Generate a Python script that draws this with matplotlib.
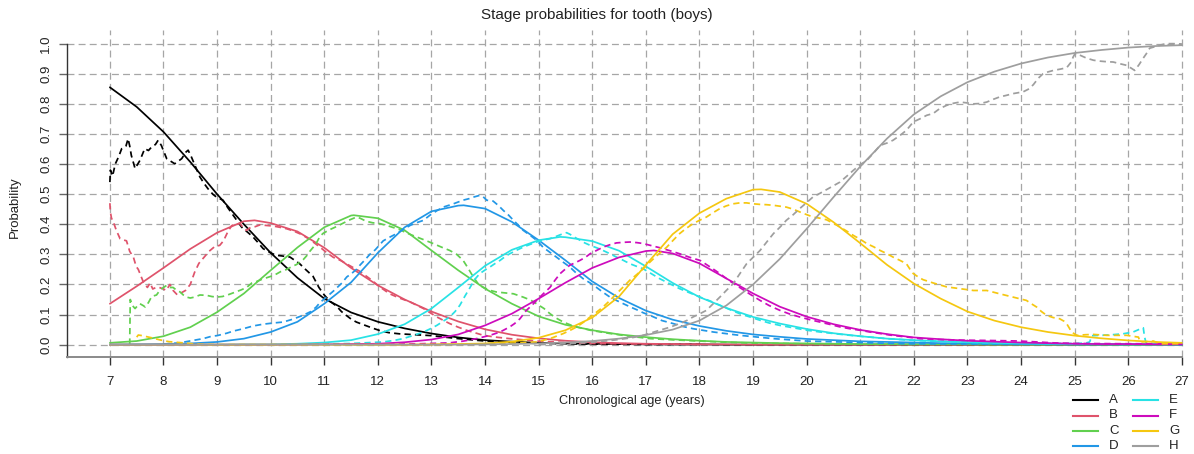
import numpy as np
import matplotlib
matplotlib.use("Agg")
import matplotlib.pyplot as plt
from matplotlib.lines import Line2D

plt.rcParams['font.family'] = ['Liberation Sans', 'DejaVu Sans']
plt.rcParams['lines.scale_dashes'] = False

# ---------------------------------------------------------------- data
stages = ["A", "B", "C", "D", "E", "F", "G", "H"]
stage_colors = ["#000000", "#DF536B", "#61D04F", "#2297E6",
                "#28E2E5", "#CD0BBC", "#F5C710", "#9E9E9E"]

x_ticks = [7, 8, 9, 10, 11, 12, 13, 14, 15, 16, 17, 18, 19, 20, 21, 22, 23, 24, 25, 26, 27]
y_ticks = [0.0, 0.1, 0.2, 0.3, 0.4, 0.5, 0.6, 0.7, 0.8, 0.9, 1.0]

# fitted stage probabilities as (age, probability), every half year plus the mode
fit_A = [(7, 0.855), (7.5, 0.790), (8, 0.707), (8.5, 0.607), (9, 0.500),
         (9.5, 0.400), (10, 0.305), (10.5, 0.222), (11, 0.153), (11.5, 0.107),
         (12, 0.076), (12.5, 0.054), (13, 0.037), (13.5, 0.024), (14, 0.015),
         (14.5, 0.010), (15, 0.006), (15.5, 0.004), (16, 0.003), (16.5, 0.002),
         (17, 0.001), (18, 0.001), (18.5, 0.0), (27, 0.0)]
fit_B = [(7, 0.136), (7.5, 0.194), (8, 0.255), (8.5, 0.318), (9, 0.372),
         (9.5, 0.410), (9.7, 0.413), (10, 0.404), (10.5, 0.376), (11, 0.322),
         (11.5, 0.255), (12, 0.197), (12.5, 0.150), (13, 0.110), (13.5, 0.077),
         (14, 0.051), (14.5, 0.033), (15, 0.021), (15.5, 0.013), (16, 0.008),
         (16.5, 0.005), (17, 0.003), (17.5, 0.002), (18, 0.001), (18.5, 0.001),
         (19, 0.0), (27, 0.0)]
fit_C = [(7, 0.006), (7.5, 0.012), (8, 0.028), (8.5, 0.058), (9, 0.108),
         (9.5, 0.170), (10, 0.247), (10.5, 0.323), (11, 0.390), (11.5, 0.429),
         (11.55, 0.430), (12, 0.420), (12.5, 0.380), (13, 0.313), (13.5, 0.247),
         (14, 0.186), (14.5, 0.136), (15, 0.094), (15.5, 0.066), (16, 0.048),
         (16.5, 0.034), (17, 0.025), (17.5, 0.018), (18, 0.013), (18.5, 0.009),
         (19, 0.007), (19.5, 0.005), (20, 0.004), (20.5, 0.003), (21, 0.002),
         (21.5, 0.002), (22, 0.001), (23, 0.001), (23.5, 0.0), (27, 0.0)]
fit_D = [(7, 0.000), (7.5, 0.001), (8, 0.002), (8.5, 0.004), (9, 0.009),
         (9.5, 0.020), (10, 0.042), (10.5, 0.076), (11, 0.136), (11.5, 0.207),
         (12, 0.305), (12.5, 0.390), (13, 0.443), (13.5, 0.462), (13.6, 0.463),
         (14, 0.452), (14.5, 0.408), (15, 0.347), (15.5, 0.280), (16, 0.210),
         (16.5, 0.155), (17, 0.113), (17.5, 0.083), (18, 0.062), (18.5, 0.046),
         (19, 0.034), (19.5, 0.026), (20, 0.019), (20.5, 0.015), (21, 0.011),
         (21.5, 0.009), (22, 0.007), (22.5, 0.005), (23, 0.004), (23.5, 0.003),
         (24, 0.002), (24.5, 0.002), (25, 0.001), (26.5, 0.001), (27, 0.0)]
fit_E = [(7, 0.0), (9, 0.0), (9.5, 0.001), (10, 0.001), (10.5, 0.003),
         (11, 0.007), (11.5, 0.015), (12, 0.035), (12.5, 0.068), (13, 0.120),
         (13.5, 0.190), (14, 0.262), (14.5, 0.315), (15, 0.347), (15.4, 0.358),
         (15.5, 0.357), (16, 0.344), (16.5, 0.312), (17, 0.260), (17.5, 0.205),
         (18, 0.158), (18.5, 0.122), (19, 0.092), (19.5, 0.070), (20, 0.052),
         (20.5, 0.038), (21, 0.028), (21.5, 0.020), (22, 0.015), (22.5, 0.011),
         (23, 0.008), (23.5, 0.006), (24, 0.004), (24.5, 0.003), (25, 0.002),
         (25.5, 0.002), (26, 0.001), (27, 0.001)]
fit_F = [(7, 0.0), (10.5, 0.0), (11, 0.001), (11.5, 0.002), (12, 0.003),
         (12.5, 0.008), (13, 0.017), (13.5, 0.034), (14, 0.064), (14.5, 0.103),
         (15, 0.153), (15.5, 0.206), (16, 0.255), (16.5, 0.290), (17, 0.311),
         (17.15, 0.313), (17.5, 0.303), (18, 0.270), (18.5, 0.220), (19, 0.170),
         (19.5, 0.126), (20, 0.093), (20.5, 0.068), (21, 0.049), (21.5, 0.035),
         (22, 0.024), (22.5, 0.018), (23, 0.013), (23.5, 0.010), (24, 0.007),
         (24.5, 0.005), (25, 0.003), (25.5, 0.002), (26, 0.002), (26.5, 0.001),
         (27, 0.001)]
fit_G = [(7, 0.0), (12.5, 0.0), (13, 0.001), (13.5, 0.002), (14, 0.004),
         (14.5, 0.010), (15, 0.023), (15.5, 0.048), (16, 0.090), (16.5, 0.160),
         (17, 0.265), (17.5, 0.367), (18, 0.437), (18.5, 0.485), (19, 0.515),
         (19.15, 0.516), (19.5, 0.507), (20, 0.468), (20.5, 0.407), (21, 0.337),
         (21.5, 0.265), (22, 0.203), (22.5, 0.153), (23, 0.110), (23.5, 0.080),
         (24, 0.058), (24.5, 0.042), (25, 0.030), (25.5, 0.021), (26, 0.014),
         (26.5, 0.009), (27, 0.006)]
fit_H = [(7, 0.0), (13.5, 0.0), (14, 0.001), (14.5, 0.002), (15, 0.004),
         (15.5, 0.007), (16, 0.012), (16.5, 0.020), (17, 0.032), (17.5, 0.050),
         (18, 0.080), (18.5, 0.130), (19, 0.200), (19.5, 0.285), (20, 0.385),
         (20.5, 0.490), (21, 0.592), (21.5, 0.685), (22, 0.765), (22.5, 0.825),
         (23, 0.872), (23.5, 0.907), (24, 0.934), (24.5, 0.954), (25, 0.969),
         (25.5, 0.979), (26, 0.987), (26.5, 0.992), (27, 0.995)]

# observed (empirical) stage proportions as (age, proportion)
emp_A = [(7.0, 0.54), (7.01, 0.58), (7.05, 0.56), (7.1, 0.60), (7.16, 0.623),
         (7.22, 0.651), (7.3, 0.66), (7.34, 0.684), (7.37, 0.66), (7.4, 0.629),
         (7.47, 0.585), (7.52, 0.60), (7.56, 0.612), (7.65, 0.651), (7.72, 0.645),
         (7.78, 0.657), (7.85, 0.665), (7.9, 0.679), (7.96, 0.662), (8.06, 0.618),
         (8.13, 0.61), (8.21, 0.601), (8.28, 0.61), (8.34, 0.618), (8.42, 0.64),
         (8.46, 0.646), (8.52, 0.624), (8.6, 0.59), (8.68, 0.557), (8.76, 0.535),
         (8.83, 0.518), (8.92, 0.50), (8.99, 0.49), (9.11, 0.48), (9.2, 0.455),
         (9.3, 0.43), (9.38, 0.41), (9.46, 0.39), (9.56, 0.375), (9.67, 0.358),
         (9.76, 0.34), (9.86, 0.319), (10.0, 0.305), (10.1, 0.297), (10.2, 0.295),
         (10.36, 0.291), (10.45, 0.28), (10.54, 0.269), (10.65, 0.25), (10.79, 0.227),
         (10.9, 0.19), (11.0, 0.165), (11.1, 0.145), (11.23, 0.128), (11.32, 0.11),
         (11.42, 0.096), (11.5, 0.085), (11.6, 0.075), (11.75, 0.065), (11.9, 0.055),
         (12.05, 0.046), (12.2, 0.04), (12.4, 0.036), (12.7, 0.033), (13.0, 0.03),
         (13.25, 0.025), (13.5, 0.02), (13.75, 0.016), (14.0, 0.012), (14.3, 0.009),
         (14.6, 0.007), (15.0, 0.004), (15.5, 0.003), (16.0, 0.002), (17.0, 0.001),
         (18.0, 0.001)]
emp_B = [(7.0, 0.47), (7.01, 0.44), (7.03, 0.42), (7.06, 0.41), (7.12, 0.38),
         (7.19, 0.352), (7.25, 0.348), (7.31, 0.345), (7.37, 0.31), (7.44, 0.29),
         (7.49, 0.26), (7.53, 0.25), (7.62, 0.21), (7.66, 0.20), (7.7, 0.19),
         (7.75, 0.205), (7.8, 0.185), (7.86, 0.19), (7.92, 0.19), (8.0, 0.185),
         (8.05, 0.18), (8.12, 0.20), (8.18, 0.18), (8.26, 0.165), (8.33, 0.172),
         (8.41, 0.18), (8.5, 0.20), (8.58, 0.24), (8.66, 0.27), (8.76, 0.291),
         (8.85, 0.31), (8.95, 0.325), (9.05, 0.33), (9.12, 0.345), (9.2, 0.375),
         (9.27, 0.395), (9.33, 0.40), (9.43, 0.402), (9.5, 0.385), (9.55, 0.38),
         (9.63, 0.39), (9.71, 0.392), (9.8, 0.398), (9.92, 0.396), (10.05, 0.394),
         (10.17, 0.39), (10.3, 0.385), (10.42, 0.378), (10.55, 0.368), (10.67, 0.356),
         (10.8, 0.34), (10.92, 0.324), (11.05, 0.305), (11.17, 0.29), (11.3, 0.28),
         (11.42, 0.268), (11.55, 0.255), (11.65, 0.245), (11.85, 0.219), (12.05, 0.19),
         (12.22, 0.169), (12.4, 0.155), (12.6, 0.142), (12.85, 0.12), (13.1, 0.092),
         (13.34, 0.07), (13.5, 0.058), (13.65, 0.048), (13.97, 0.031), (14.2, 0.025),
         (14.46, 0.02), (14.96, 0.012), (15.5, 0.007), (16.0, 0.004), (17.0, 0.002),
         (18.0, 0.001)]
emp_C = [(7.37, 0.0), (7.38, 0.15), (7.42, 0.13), (7.47, 0.12), (7.52, 0.13),
         (7.56, 0.136), (7.62, 0.13), (7.66, 0.125), (7.72, 0.14), (7.78, 0.16),
         (7.87, 0.165), (7.93, 0.18), (8.0, 0.19), (8.06, 0.197), (8.12, 0.19),
         (8.18, 0.19), (8.25, 0.18), (8.31, 0.175), (8.37, 0.165), (8.43, 0.158),
         (8.5, 0.155), (8.58, 0.158), (8.68, 0.165), (8.8, 0.164), (8.9, 0.16),
         (8.99, 0.158), (9.1, 0.16), (9.18, 0.164), (9.27, 0.17), (9.36, 0.176),
         (9.45, 0.182), (9.55, 0.19), (9.65, 0.205), (9.74, 0.21), (9.85, 0.218),
         (9.92, 0.222), (10.02, 0.228), (10.11, 0.235), (10.2, 0.244), (10.3, 0.25),
         (10.4, 0.26), (10.48, 0.266), (10.55, 0.275), (10.61, 0.283), (10.67, 0.295),
         (10.73, 0.31), (10.8, 0.325), (10.86, 0.34), (10.92, 0.36), (10.98, 0.37),
         (11.1, 0.382), (11.2, 0.39), (11.29, 0.398), (11.4, 0.408), (11.48, 0.415),
         (11.6, 0.424), (11.67, 0.42), (11.78, 0.41), (11.9, 0.405), (12.04, 0.402),
         (12.22, 0.393), (12.41, 0.382), (12.55, 0.37), (12.72, 0.358), (12.88, 0.347),
         (13.03, 0.336), (13.2, 0.323), (13.34, 0.313), (13.47, 0.30), (13.59, 0.28),
         (13.68, 0.255), (13.78, 0.225), (13.88, 0.20), (13.97, 0.19), (14.1, 0.18),
         (14.21, 0.175), (14.37, 0.172), (14.53, 0.169), (14.71, 0.158), (14.85, 0.148),
         (14.96, 0.136), (15.1, 0.12), (15.21, 0.103), (15.33, 0.088), (15.46, 0.075),
         (15.6, 0.065), (15.71, 0.059), (15.96, 0.048), (16.33, 0.037), (16.7, 0.028),
         (17.08, 0.02), (17.5, 0.016), (18.0, 0.012), (18.5, 0.008), (19.0, 0.005),
         (20.0, 0.003), (21.0, 0.002), (22.0, 0.001)]
emp_D = [(8.0, 0.002), (8.3, 0.006), (8.55, 0.014), (8.74, 0.02), (8.9, 0.028),
         (9.0, 0.03), (9.18, 0.038), (9.3, 0.045), (9.49, 0.053), (9.67, 0.062),
         (9.86, 0.068), (10.05, 0.072), (10.23, 0.075), (10.42, 0.085), (10.61, 0.098),
         (10.75, 0.11), (10.85, 0.125), (10.92, 0.14), (11.04, 0.158), (11.17, 0.178),
         (11.23, 0.188), (11.33, 0.205), (11.42, 0.225), (11.5, 0.235), (11.6, 0.25),
         (11.67, 0.265), (11.75, 0.28), (11.85, 0.30), (11.95, 0.315), (12.1, 0.345),
         (12.22, 0.357), (12.35, 0.369), (12.48, 0.383), (12.6, 0.396), (12.72, 0.405),
         (12.85, 0.413), (12.97, 0.43), (13.1, 0.445), (13.22, 0.457), (13.41, 0.468),
         (13.59, 0.48), (13.7, 0.485), (13.78, 0.49), (13.9, 0.496), (13.96, 0.492),
         (14.03, 0.48), (14.15, 0.477), (14.25, 0.462), (14.34, 0.446), (14.44, 0.43),
         (14.53, 0.413), (14.62, 0.397), (14.71, 0.38), (14.85, 0.362), (14.96, 0.347),
         (15.08, 0.324), (15.2, 0.308), (15.33, 0.291), (15.45, 0.275), (15.58, 0.258),
         (15.7, 0.238), (15.83, 0.219), (15.96, 0.205), (16.08, 0.19), (16.2, 0.174),
         (16.33, 0.158), (16.45, 0.147), (16.58, 0.136), (16.7, 0.126), (16.83, 0.116),
         (16.95, 0.106), (17.08, 0.097), (17.3, 0.08), (17.51, 0.07), (17.7, 0.06),
         (17.88, 0.053), (18.26, 0.042), (18.75, 0.031), (19.38, 0.02), (20.0, 0.012),
         (20.62, 0.009), (21.2, 0.006), (21.86, 0.003), (23.0, 0.002), (24.0, 0.001),
         (26.0, 0.001)]
emp_E = [(10.0, 0.0), (11.0, 0.002), (11.5, 0.004), (12.1, 0.009), (12.3, 0.014),
         (12.47, 0.02), (12.65, 0.03), (12.85, 0.042), (12.97, 0.052), (13.1, 0.064),
         (13.22, 0.078), (13.34, 0.092), (13.44, 0.11), (13.53, 0.131), (13.62, 0.16),
         (13.72, 0.19), (13.8, 0.215), (13.9, 0.236), (14.0, 0.248), (14.09, 0.258),
         (14.19, 0.27), (14.28, 0.28), (14.37, 0.292), (14.46, 0.302), (14.58, 0.313),
         (14.71, 0.324), (14.84, 0.333), (14.96, 0.341), (15.08, 0.347), (15.21, 0.352),
         (15.33, 0.36), (15.46, 0.369), (15.52, 0.372), (15.58, 0.367), (15.67, 0.357),
         (15.77, 0.347), (15.86, 0.338), (15.96, 0.33), (16.08, 0.322), (16.2, 0.313),
         (16.33, 0.302), (16.45, 0.291), (16.58, 0.28), (16.7, 0.269), (16.83, 0.26),
         (16.95, 0.252), (17.1, 0.236), (17.26, 0.219), (17.45, 0.202), (17.63, 0.186),
         (17.82, 0.172), (18.01, 0.158), (18.2, 0.145), (18.38, 0.131), (18.56, 0.117),
         (18.75, 0.103), (18.94, 0.092), (19.13, 0.081), (19.3, 0.072), (19.5, 0.064),
         (19.75, 0.056), (20.0, 0.048), (20.25, 0.042), (20.5, 0.037), (20.75, 0.032),
         (20.99, 0.028), (21.25, 0.024), (21.49, 0.02), (21.75, 0.017), (21.99, 0.014),
         (22.48, 0.011), (23.0, 0.008), (23.5, 0.006), (24.0, 0.005), (24.5, 0.004),
         (25.0, 0.004), (25.2, 0.005), (25.28, 0.009), (25.32, 0.03), (25.5, 0.031),
         (25.7, 0.033), (25.9, 0.036), (26.09, 0.042), (26.22, 0.052), (26.28, 0.056),
         (26.3, 0.03), (26.33, 0.005), (26.5, 0.003), (27.0, 0.002)]
emp_F = [(12.0, 0.001), (12.8, 0.003), (13.34, 0.006), (13.6, 0.012), (13.84, 0.02),
         (14.09, 0.031), (14.28, 0.042), (14.46, 0.059), (14.55, 0.07), (14.65, 0.086),
         (14.77, 0.114), (14.87, 0.13), (14.96, 0.147), (15.08, 0.168), (15.21, 0.19),
         (15.3, 0.213), (15.4, 0.236), (15.49, 0.25), (15.58, 0.264), (15.68, 0.272),
         (15.77, 0.28), (15.87, 0.29), (15.96, 0.302), (16.08, 0.313), (16.2, 0.324),
         (16.33, 0.332), (16.45, 0.338), (16.58, 0.34), (16.7, 0.341), (16.83, 0.339),
         (16.95, 0.336), (17.08, 0.33), (17.26, 0.322), (17.45, 0.312), (17.63, 0.302),
         (17.82, 0.29), (18.01, 0.28), (18.2, 0.258), (18.38, 0.236), (18.56, 0.212),
         (18.75, 0.19), (18.94, 0.168), (19.13, 0.147), (19.3, 0.13), (19.5, 0.114),
         (19.68, 0.102), (19.87, 0.092), (20.06, 0.083), (20.25, 0.075), (20.44, 0.067),
         (20.62, 0.059), (20.8, 0.053), (20.99, 0.048), (21.18, 0.042), (21.37, 0.037),
         (21.55, 0.032), (21.74, 0.028), (21.93, 0.024), (22.11, 0.02), (22.48, 0.017),
         (22.9, 0.015), (23.36, 0.014), (23.7, 0.013), (23.98, 0.012), (24.3, 0.009),
         (24.6, 0.006), (25.0, 0.004), (26.0, 0.003), (27.0, 0.003)]
emp_G = [(7.5, 0.025), (7.53, 0.032), (7.6, 0.03), (7.7, 0.026), (7.8, 0.022),
         (7.93, 0.016), (8.1, 0.01), (8.3, 0.007), (8.55, 0.003), (8.7, 0.001),
         (9.0, 0.0), (13.0, 0.0), (14.0, 0.002), (14.5, 0.005), (14.96, 0.009),
         (15.21, 0.02), (15.33, 0.028), (15.46, 0.037), (15.58, 0.047), (15.71, 0.059),
         (15.84, 0.075), (15.96, 0.092), (16.08, 0.108), (16.2, 0.125), (16.33, 0.147),
         (16.45, 0.169), (16.58, 0.192), (16.7, 0.214), (16.83, 0.233), (16.95, 0.252),
         (17.08, 0.275), (17.2, 0.295), (17.39, 0.324), (17.51, 0.347), (17.63, 0.369),
         (17.75, 0.386), (17.88, 0.402), (18.01, 0.414), (18.13, 0.424), (18.25, 0.438),
         (18.38, 0.452), (18.5, 0.461), (18.63, 0.468), (18.75, 0.471), (18.88, 0.471),
         (19.0, 0.468), (19.13, 0.466), (19.25, 0.465), (19.38, 0.463), (19.5, 0.46),
         (19.62, 0.457), (19.75, 0.45), (19.87, 0.441), (20.0, 0.432), (20.12, 0.424),
         (20.25, 0.42), (20.37, 0.415), (20.5, 0.403), (20.62, 0.391), (20.75, 0.377),
         (20.87, 0.363), (21.0, 0.35), (21.12, 0.336), (21.25, 0.325), (21.37, 0.313),
         (21.5, 0.302), (21.61, 0.291), (21.74, 0.28), (21.86, 0.269), (21.93, 0.25),
         (21.99, 0.236), (22.08, 0.225), (22.17, 0.216), (22.36, 0.205), (22.61, 0.192),
         (22.86, 0.186), (23.11, 0.18), (23.36, 0.18), (23.6, 0.169), (23.85, 0.158),
         (24.1, 0.147), (24.2, 0.135), (24.29, 0.125), (24.38, 0.11), (24.48, 0.097),
         (24.6, 0.09), (24.72, 0.086), (24.8, 0.078), (24.85, 0.07), (24.9, 0.055),
         (24.94, 0.042), (25.04, 0.031), (25.2, 0.033), (25.35, 0.034), (25.6, 0.031),
         (25.97, 0.031), (26.19, 0.025), (26.22, 0.009), (26.35, 0.01), (26.47, 0.012),
         (26.59, 0.003), (27.0, 0.003)]
emp_H = [(15.0, 0.0), (15.5, 0.003), (16.0, 0.008), (16.4, 0.015), (16.7, 0.022),
         (16.89, 0.028), (17.08, 0.038), (17.26, 0.048), (17.45, 0.058), (17.63, 0.07),
         (17.76, 0.08), (17.88, 0.092), (18.01, 0.103), (18.13, 0.114), (18.25, 0.135),
         (18.38, 0.158), (18.5, 0.18), (18.63, 0.203), (18.75, 0.235), (18.88, 0.269),
         (19.0, 0.29), (19.13, 0.313), (19.25, 0.34), (19.38, 0.369), (19.5, 0.39),
         (19.62, 0.413), (19.75, 0.432), (19.87, 0.452), (20.0, 0.472), (20.12, 0.491),
         (20.25, 0.503), (20.37, 0.515), (20.5, 0.528), (20.62, 0.54), (20.75, 0.56),
         (20.87, 0.579), (21.0, 0.598), (21.12, 0.612), (21.25, 0.637), (21.37, 0.662),
         (21.5, 0.67), (21.61, 0.679), (21.74, 0.695), (21.86, 0.712), (21.99, 0.74),
         (22.11, 0.75), (22.24, 0.762), (22.36, 0.768), (22.48, 0.784), (22.61, 0.795),
         (22.74, 0.802), (22.86, 0.806), (23.0, 0.803), (23.11, 0.80), (23.23, 0.801),
         (23.36, 0.806), (23.48, 0.815), (23.6, 0.823), (23.72, 0.828), (23.85, 0.834),
         (24.04, 0.84), (24.15, 0.85), (24.23, 0.864), (24.32, 0.885), (24.41, 0.90),
         (24.5, 0.906), (24.6, 0.911), (24.72, 0.915), (24.85, 0.92), (24.94, 0.94),
         (24.97, 0.955), (25.0, 0.965), (25.03, 0.967), (25.12, 0.96), (25.22, 0.952),
         (25.35, 0.945), (25.47, 0.942), (25.6, 0.94), (25.72, 0.939), (25.85, 0.933),
         (25.97, 0.928), (26.06, 0.918), (26.12, 0.911), (26.2, 0.93), (26.28, 0.952),
         (26.35, 0.97), (26.4, 0.985), (26.5, 0.99), (26.59, 0.995), (26.7, 1.0),
         (26.84, 1.0), (27.0, 0.999)]

fitted = [fit_A, fit_B, fit_C, fit_D, fit_E, fit_F, fit_G, fit_H]
observed = [emp_A, emp_B, emp_C, emp_D, emp_E, emp_F, emp_G, emp_H]

# ---------------------------------------------------------------- figure
W, H = 1194, 454
fig = plt.figure(figsize=(W / 100, H / 100), dpi=100)
fig.patch.set_facecolor("white")


def fx(px):
    return px / W


def fy(py):
    return 1 - py / H


x_lo, x_hi = 6.2, 27.2
y_lo, y_hi = -0.041, 1.044
ax = fig.add_axes([fx(67), fy(357), fx(67 + 53.6 * (x_hi - x_lo)) - fx(67),
                   fy(357 - 301 * (y_hi - y_lo)) - fy(357)])
ax.set_xlim(x_lo, x_hi)
ax.set_ylim(y_lo, y_hi)

grid_kw = dict(color="#A6A6A6", lw=0.9, linestyle=(0, (5, 3)), zorder=1)
for xv in x_ticks:
    ax.axvline(xv, **grid_kw)
ax.hlines(y_ticks, x_lo, x_ticks[-1], colors=grid_kw["color"], lw=grid_kw["lw"],
          linestyles=grid_kw["linestyle"], zorder=1)

for fit, obs, col in zip(fitted, observed, stage_colors):
    fit_age, fit_prob = np.array(fit).T
    ax.plot(fit_age, fit_prob, color=col, lw=1.25, solid_capstyle="round",
            solid_joinstyle="round", zorder=3)
    obs_age, obs_prob = np.array(obs).T
    ax.plot(obs_age, obs_prob, color=col, lw=1.25, linestyle=(0, (4.5, 3)),
            zorder=3)

for side in ("top", "right"):
    ax.spines[side].set_visible(False)
ax.spines["left"].set_bounds(y_lo, y_ticks[-1])
ax.spines["left"].set_color("#333333")
ax.spines["bottom"].set_bounds(x_lo, x_ticks[-1])
ax.spines["bottom"].set_color("#8A8A8A")
ax.spines["left"].set_linewidth(1.0)
ax.spines["bottom"].set_linewidth(1.4)

ax.set_xticks(x_ticks)
ax.set_xticklabels([str(v) for v in x_ticks])
ax.set_yticks(y_ticks)
ax.set_yticklabels([f"{v:.1f}" for v in y_ticks], rotation=90, va="center")
ax.tick_params(axis="x", length=6, width=1, color="#333333", pad=8,
               labelsize=9.5, labelcolor="#222222")
ax.tick_params(axis="y", length=6, width=1, color="#666666", pad=4.5,
               labelsize=9.5, labelcolor="#222222")

fig.text(0.5, fy(15), "Stage probabilities for tooth (boys)", ha="center",
         va="center", fontsize=11, color="#222222")
fig.text(fx(632), fy(401), "Chronological age (years)", ha="center", va="center",
         fontsize=9.2, color="#222222")
fig.text(fx(15), fy(207), "Probability", ha="center", va="center", rotation=90,
         fontsize=9.5, color="#222222")

# legend: two columns of four stages
row_y = [400, 415.5, 431, 446]
col_x = [1073, 1133]
for i, (name, col) in enumerate(zip(stages, stage_colors)):
    c, r = divmod(i, 4)
    x0 = col_x[c]
    y0 = row_y[r]
    fig.add_artist(Line2D([fx(x0), fx(x0 + 25)], [fy(y0), fy(y0)], color=col,
                          lw=1.5, transform=fig.transFigure))
    fig.text(fx(x0 + 36), fy(y0), name, ha="left", va="center", fontsize=9.5,
             color="#222222")

fig.savefig("out.png", dpi=100, facecolor="white")
